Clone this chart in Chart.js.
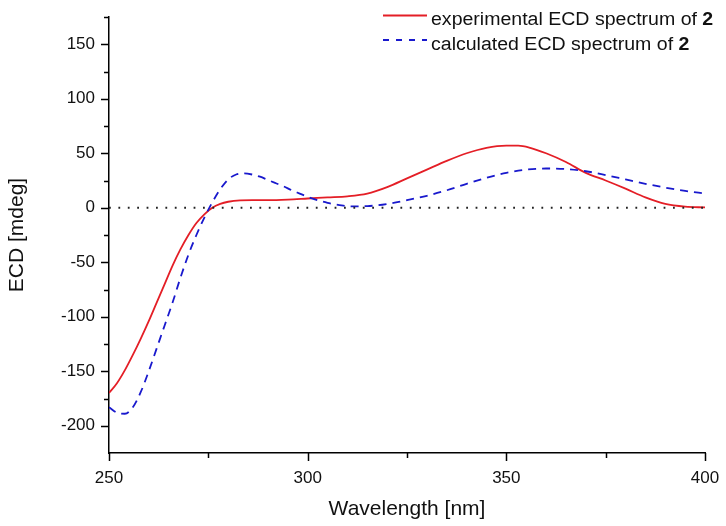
<!DOCTYPE html>
<html>
<head>
<meta charset="utf-8">
<script src="https://cdn.jsdelivr.net/npm/chart.js@4/dist/chart.umd.min.js"></script>
<style>
  html, body { margin: 0; padding: 0; background: #fff; }
  #wrap { width: 726px; height: 526px; }
</style>
</head>
<body>
<div id="wrap"><canvas id="ecd"></canvas></div>
<script>
// experimental ECD spectrum (wavelength nm, mdeg)
var expX = [250, 252, 254, 256, 258, 260, 262, 264, 266, 268, 270, 272, 274, 276, 278, 280, 283, 286, 290, 295,
	300, 305, 310, 315, 320, 325, 330, 335, 340, 345, 350, 353, 356, 360, 365, 370, 375, 380, 385, 390, 395, 400];
var expY = [-170, -161, -149, -135, -120, -104, -87, -70, -53, -38, -25, -14, -6, 0, 3.5, 5.5, 6.8, 7, 7, 7.5,
	8.5, 9.5, 10.5, 13, 19, 27, 35, 43, 50, 55, 57, 57, 55, 50, 42, 32, 25, 17.5, 9.5, 3.5, 1, 0.3];

// calculated ECD spectrum
var calcX = [250, 252, 254, 256, 258, 260, 262, 264, 266, 268, 270, 272, 274, 276, 278, 280, 282, 284, 286, 288,
	290, 292, 294, 296, 298, 300, 302, 305, 308, 311, 315, 320, 325, 330, 335, 340, 345, 350, 355, 360,
	365, 370, 375, 380, 385, 390, 395, 400];
var calcY = [-183, -188, -189, -183, -169, -150, -129, -108, -87, -64, -43, -25, -9, 5, 17, 26, 30.5, 31.5, 30.5, 28.5,
	25.5, 22.5, 19.5, 16, 13, 10, 7.5, 4.5, 2.5, 1.3, 1.5, 3.5, 7, 11, 16, 22, 27.5, 32, 35, 36,
	35.5, 33.5, 30, 26, 22, 18.5, 15.5, 13];

// zero reference line
var zeroX = [250, 400];
var zeroY = [0, 0];

var legendRows = [
	{text: 'experimental ECD spectrum of ', bold: '2', color: 'rgb(228,30,38)', dash: []},
	{text: 'calculated ECD spectrum of ', bold: '2', color: 'rgb(25,25,205)', dash: [6, 7]}
];

function pts(xs, ys) {
	var out = [];
	for (var i = 0; i < xs.length; i++) out.push({x: xs[i], y: ys[i]});
	return out;
}

var FONT = "Arial, 'Liberation Sans', sans-serif";

// short minor ticks, longer major ticks, pointing outward
var tickPlugin = {
	id: 'ticks',
	afterDraw: function(chart) {
		var ctx = chart.ctx;
		var xs = chart.scales.x, ys = chart.scales.y;
		ctx.save();
		ctx.strokeStyle = '#000';
		ctx.lineWidth = 1.5;
		ctx.beginPath();
		ys.ticks.forEach(function(t) {
			if (t.value === ys.min) return;
			var len = t.value % 50 === 0 ? 8 : 5;
			var py = Math.round(ys.getPixelForValue(t.value)) + 0.5;
			ctx.moveTo(ys.right, py);
			ctx.lineTo(ys.right - len, py);
		});
		xs.ticks.forEach(function(t) {
			var len = t.value % 50 === 0 ? 8 : 5;
			var px = Math.round(xs.getPixelForValue(t.value)) + 0.5;
			ctx.moveTo(px, xs.top);
			ctx.lineTo(px, xs.top + len);
		});
		ctx.stroke();
		ctx.restore();
	}
};

// legend with bold compound number (text slightly widened like the source figure)
var legendPlugin = {
	id: 'ecdLegend',
	afterDraw: function(chart) {
		var ctx = chart.ctx;
		ctx.save();
		legendRows.forEach(function(row, i) {
			var ly = 15.5 + i * 24.5;
			var by = 25 + i * 25;
			ctx.strokeStyle = row.color;
			ctx.lineWidth = 1.8;
			ctx.setLineDash(row.dash);
			ctx.beginPath();
			ctx.moveTo(383, ly);
			ctx.lineTo(427, ly);
			ctx.stroke();
			ctx.setLineDash([]);
			ctx.save();
			ctx.translate(431, by);
			ctx.scale(1.085, 1);
			ctx.textBaseline = 'alphabetic';
			ctx.fillStyle = '#111';
			ctx.font = '18px ' + FONT;
			ctx.fillText(row.text, 0, 0);
			var w = ctx.measureText(row.text).width;
			ctx.font = 'bold 18px ' + FONT;
			ctx.fillText(row.bold, w, 0);
			ctx.restore();
		});
		ctx.restore();
	}
};

new Chart(document.getElementById('ecd'), {
	type: 'line',
	data: {
		datasets: [{
			label: 'zero',
			data: pts(zeroX, zeroY),
			borderColor: '#222',
			borderWidth: 1.8,
			borderDash: [1.8, 7.6],
			pointRadius: 0
		}, {
			label: 'calculated ECD spectrum of 2',
			data: pts(calcX, calcY),
			borderColor: 'rgb(25,25,205)',
			borderWidth: 1.8,
			borderDash: [8, 6],
			pointRadius: 0,
			cubicInterpolationMode: 'monotone'
		}, {
			label: 'experimental ECD spectrum of 2',
			data: pts(expX, expY),
			borderColor: 'rgb(228,30,38)',
			borderWidth: 1.8,
			pointRadius: 0,
			cubicInterpolationMode: 'monotone'
		}]
	},
	options: {
		responsive: true,
		maintainAspectRatio: false,
		animation: false,
		layout: {padding: {top: 17, right: 21, left: 0, bottom: 0}},
		plugins: {
			legend: {display: false},
			tooltip: {enabled: false}
		},
		scales: {
			x: {
				type: 'linear',
				min: 250,
				max: 400,
				afterFit: function(s) {
					s.height = 73;
					s.paddingLeft = 0;
					s.paddingRight = 0;
				},
				border: {display: true, color: '#000', width: 1.5},
				grid: {display: false, drawTicks: false},
				ticks: {
					stepSize: 25,
					autoSkip: false,
					maxRotation: 0,
					padding: 15,
					color: '#111',
					font: {family: FONT, size: 17},
					callback: function(v) { return v % 50 === 0 ? v : ''; }
				},
				title: {
					display: true,
					text: 'Wavelength [nm]',
					color: '#111',
					font: {family: FONT, size: 21},
					padding: {top: 0, bottom: 4}
				}
			},
			y: {
				min: -225,
				max: 175,
				afterFit: function(s) {
					s.width = 109;
					s.paddingTop = 0;
					s.paddingBottom = 0;
				},
				border: {display: true, color: '#000', width: 1.5},
				grid: {display: false, drawTicks: false},
				ticks: {
					stepSize: 25,
					autoSkip: false,
					padding: 14,
					color: '#111',
					font: {family: FONT, size: 17},
					callback: function(v) { return (v % 50 === 0 && v >= -200 && v <= 150) ? v : ''; }
				},
				title: {
					display: true,
					text: 'ECD [mdeg]',
					color: '#111',
					font: {family: FONT, size: 21},
					padding: {top: 5, bottom: 0}
				}
			}
		}
	},
	plugins: [tickPlugin, legendPlugin]
});
</script>
</body>
</html>
